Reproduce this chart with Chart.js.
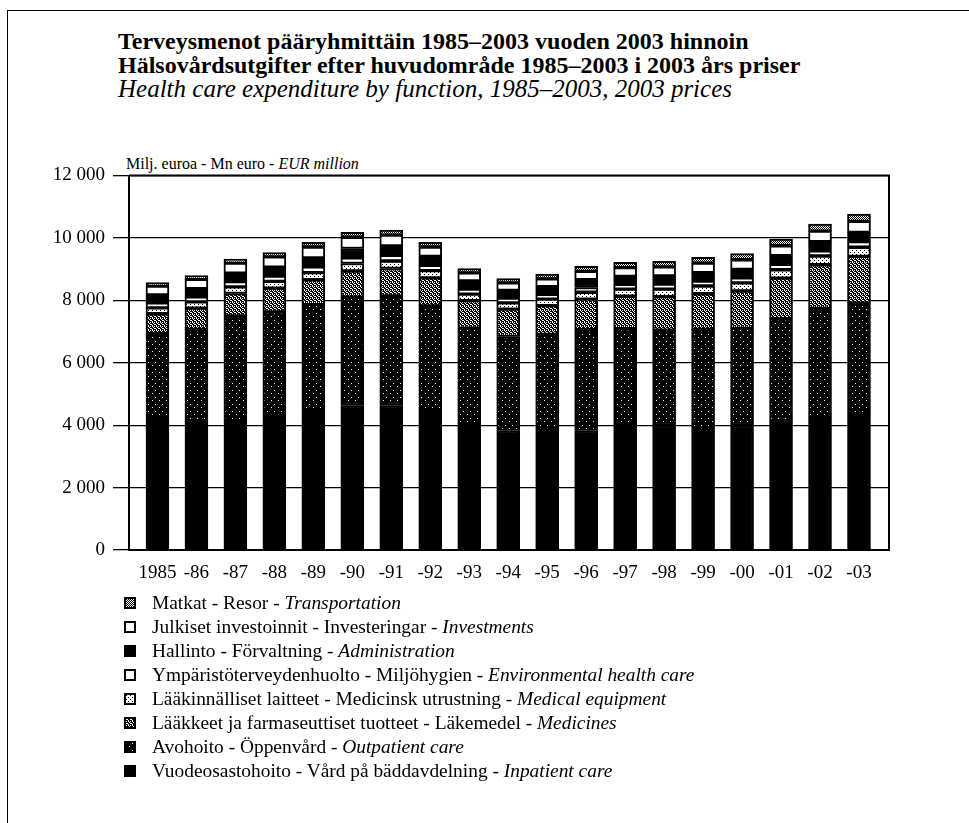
<!DOCTYPE html>
<html>
<head>
<meta charset="utf-8">
<script src="https://cdn.jsdelivr.net/npm/chart.js@4.4.1/dist/chart.umd.min.js"></script>
<style>
  html, body { margin: 0; padding: 0; background: #fff; }
  body { width: 969px; height: 823px; position: relative; overflow: hidden; font-family: "Liberation Serif", "DejaVu Serif", serif; color: #000; }
  .frame { position: absolute; left: 7px; top: 10px; width: 970px; height: 830px; border-top: 1.5px solid #000; border-left: 1.5px solid #000; }
  .title { position: absolute; left: 118px; top: 29px; font-size: 24px; line-height: 24px; }
  .title b { font-weight: bold; display: block; }
  .title i { display: block; font-size: 25px; }
  .unit { position: absolute; left: 126px; top: 155px; font-size: 16px; }
  #wrap { position: absolute; left: 0; top: 150px; width: 969px; height: 440px; }
  .legend { position: absolute; left: 124px; top: 591px; font-size: 19.4px; line-height: 24px; }
  .legend div { display: flex; align-items: center; height: 24px; }
  .legend canvas { width: 12px; height: 12px; margin-right: 16px; }
</style>
</head>
<body>
<div class="frame"></div>
<div class="title">
  <b>Terveysmenot pääryhmittäin 1985–2003 vuoden 2003 hinnoin</b>
  <b>Hälsovårdsutgifter efter huvudområde 1985–2003 i 2003 års priser</b>
  <i>Health care expenditure by function, 1985–2003, 2003 prices</i>
</div>
<div class="unit">Milj. euroa - Mn euro - <i>EUR million</i></div>
<div id="wrap"><canvas id="chart"></canvas></div>
<div class="legend" id="legend"></div>

<script>
// vuodet
const years = ["1985", "-86", "-87", "-88", "-89", "-90", "-91", "-92", "-93", "-94",
               "-95", "-96", "-97", "-98", "-99", "-00", "-01", "-02", "-03"];

// milj. euroa, vuoden 2003 hinnoin (luettu kuvasta)
const inpatient  = [4190, 4130, 4140, 4300, 4410, 4630, 4630, 4420, 3950, 3830, 3880, 3830, 3950, 3990, 3880, 3990, 4090, 4200, 4350];
const outpatient = [2740, 2940, 3360, 3330, 3450, 3470, 3510, 3400, 3160, 3010, 3030, 3230, 3140, 3050, 3190, 3110, 3320, 3540, 3560];
const medicines  = [640, 680, 720, 760, 800, 840, 880, 900, 880, 880, 920, 980, 1040, 1080, 1140, 1200, 1300, 1400, 1500];
const medEquip   = [190, 200, 210, 220, 230, 240, 240, 230, 210, 200, 210, 220, 230, 240, 250, 260, 270, 280, 290];
const envHealth  = [160, 160, 170, 170, 180, 180, 180, 170, 160, 150, 150, 150, 150, 160, 160, 160, 170, 170, 180];
const admin      = [250, 260, 270, 280, 290, 300, 300, 290, 260, 250, 250, 250, 260, 260, 270, 270, 280, 290, 300];
const investment = [290, 300, 320, 330, 350, 360, 350, 300, 260, 240, 250, 270, 280, 290, 300, 310, 320, 340, 350];
const transport  = [110, 120, 130, 140, 150, 160, 160, 150, 140, 140, 150, 160, 170, 180, 190, 200, 210, 220, 230];

const yTicks = [0, 2000, 4000, 6000, 8000, 10000, 12000];

// pienet rasterikuviot
function makeTile(bg, fg, size, dots) {
  const c = document.createElement("canvas");
  c.width = size; c.height = size;
  const g = c.getContext("2d");
  g.fillStyle = bg; g.fillRect(0, 0, size, size);
  g.fillStyle = fg;
  dots.forEach(([x, y]) => g.fillRect(x, y, 1, 1));
  return c;
}
const ctx = document.getElementById("chart").getContext("2d");
const tiles = {
  solid: makeTile("#000", "#000", 2, []),
  dots: makeTile("#000", "#fff", 7, [[1, 2], [5, 5]]),
  mesh: makeTile("#000", "#fff", 4, [[0, 0], [2, 0], [1, 1], [3, 2], [0, 3], [2, 2]]),
  light: makeTile("#fff", "#000", 4, [[0, 0], [2, 2]]),
  white: makeTile("#fff", "#fff", 2, []),
  stripe: makeTile("#fff", "#000", 2, [[0, 0], [1, 1]])
};
const pat = (k) => ctx.createPattern(tiles[k], "repeat");

const series = [
  { label: "Vuodeosastohoito - Vård på bäddavdelning - ", en: "Inpatient care", data: inpatient, tile: "solid" },
  { label: "Avohoito - Öppenvård - ", en: "Outpatient care", data: outpatient, tile: "dots" },
  { label: "Lääkkeet ja farmaseuttiset tuotteet - Läkemedel - ", en: "Medicines", data: medicines, tile: "mesh" },
  { label: "Lääkinnälliset laitteet - Medicinsk utrustning - ", en: "Medical equipment", data: medEquip, tile: "light" },
  { label: "Ympäristöterveydenhuolto - Miljöhygien - ", en: "Environmental health care", data: envHealth, tile: "white" },
  { label: "Hallinto - Förvaltning - ", en: "Administration", data: admin, tile: "solid" },
  { label: "Julkiset investoinnit - Investeringar - ", en: "Investments", data: investment, tile: "white" },
  { label: "Matkat - Resor - ", en: "Transportation", data: transport, tile: "stripe" }
];

const fmt = (v) => String(v).replace(/\B(?=(\d{3})+(?!\d))/g, " ");

const frame = {
  id: "frame",
  afterDraw(chart) {
    const a = chart.chartArea, c = chart.ctx;
    c.save();
    c.strokeStyle = "#000";
    c.lineWidth = 2;
    c.beginPath();
    c.moveTo(a.left, a.top);
    c.lineTo(a.right, a.top);
    c.lineTo(a.right, a.bottom);
    c.stroke();
    c.restore();
  }
};

new Chart(ctx, {
  type: "bar",
  data: {
    labels: years.map((_, i) => i),
    datasets: series.map((s) => ({
      label: s.label + s.en,
      data: s.data,
      backgroundColor: pat(s.tile),
      borderColor: "#000",
      borderWidth: 2,
      borderSkipped: false,
      barThickness: 23
    }))
  },
  options: {
    responsive: true,
    maintainAspectRatio: false,
    animation: false,
    layout: { padding: { top: 25.5, right: 80, left: 0, bottom: 0 } },
    plugins: { legend: { display: false }, tooltip: { enabled: false } },
    scales: {
      x: {
        type: "linear",
        stacked: true,
        offset: false,
        min: -0.73,
        max: 18.77,
        afterBuildTicks: (s) => { s.ticks = years.map((_, i) => ({ value: i })); },
        afterFit: (s) => { s.height = 40; },
        ticks: {
          callback: (v) => years[v] ?? "",
          color: "#000",
          font: { family: "Liberation Serif", size: 19 },
          padding: 12,
          maxRotation: 0,
          autoSkip: false
        },
        grid: { display: false, drawTicks: false },
        border: { color: "#000", width: 2 }
      },
      y: {
        stacked: true,
        min: 0,
        max: 12000,
        afterBuildTicks: (s) => { s.ticks = yTicks.map((v) => ({ value: v })); },
        afterFit: (s) => { s.width = 129; },
        ticks: {
          callback: (v) => fmt(v),
          color: "#000",
          font: { family: "Liberation Serif", size: 19 },
          padding: 8
        },
        grid: { color: "#000", lineWidth: 1.3, tickLength: 16 },
        border: { color: "#000", width: 2 }
      }
    }
  },
  plugins: [frame]
});

// selite (ylhäältä alas kuten pinossa)
const legend = document.getElementById("legend");
series.slice().reverse().forEach((s) => {
  const row = document.createElement("div");
  const box = document.createElement("canvas");
  box.width = 12; box.height = 12;
  const g = box.getContext("2d");
  g.fillStyle = g.createPattern(tiles[s.tile], "repeat");
  g.fillRect(0, 0, 12, 12);
  g.strokeStyle = "#000"; g.lineWidth = 2;
  g.strokeRect(1, 1, 10, 10);
  row.appendChild(box);
  const txt = document.createElement("span");
  txt.textContent = s.label;
  const it = document.createElement("i");
  it.textContent = s.en;
  txt.appendChild(it);
  row.appendChild(txt);
  legend.appendChild(row);
});
</script>
</body>
</html>
